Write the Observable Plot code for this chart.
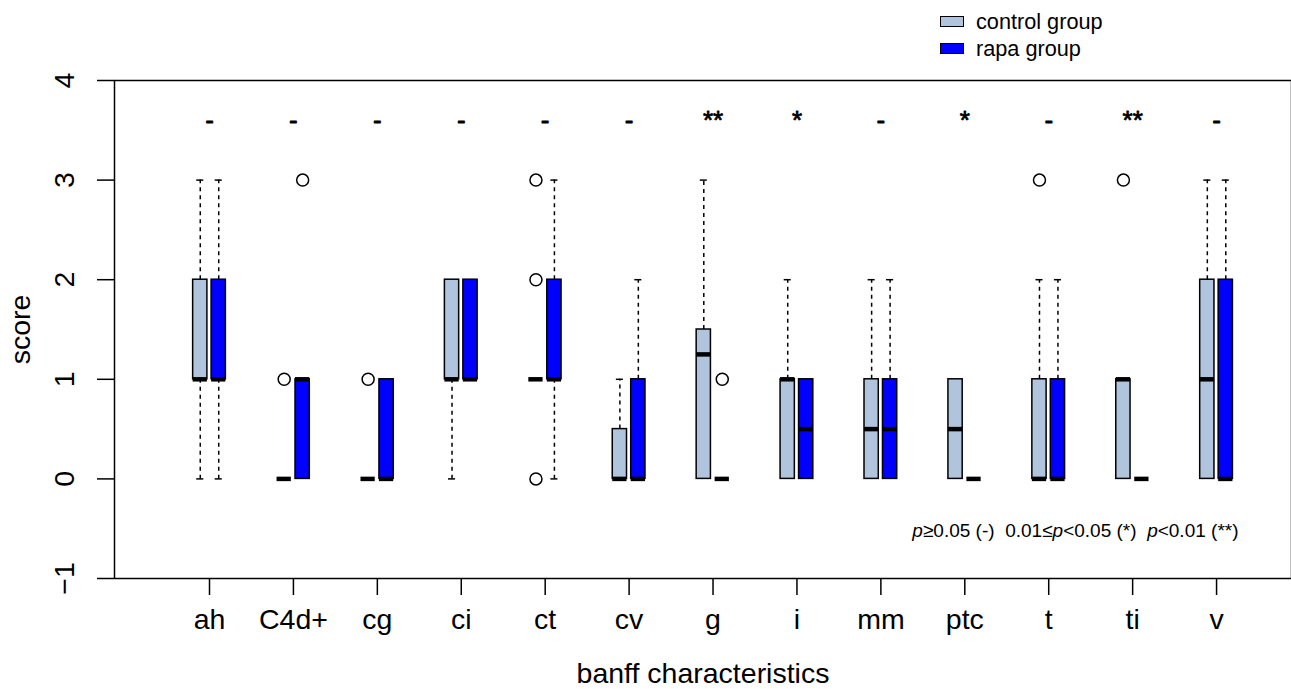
<!DOCTYPE html>
<html>
<head>
<meta charset="utf-8">
<script src="https://cdn.jsdelivr.net/npm/d3@7"></script>
<script src="https://cdn.jsdelivr.net/npm/@observablehq/plot@0.6"></script>
<style>
  html, body { margin: 0; padding: 0; background: #fff; }
  #wrap { position: relative; width: 1291px; height: 689px; font-family: "Liberation Sans", Arial, Helvetica, sans-serif; }
  #legend { position: absolute; left: 940px; top: 8px; font-size: 21.7px; color: #000; line-height: 27px; }
  #legend .item { display: flex; align-items: center; }
  #legend .sw { width: 22px; height: 9px; border: 1.5px solid #000; margin-right: 12px; }
</style>
</head>
<body>
<div id="wrap">
  <div id="chart"></div>
  <div id="legend">
    <div class="item"><span class="sw" style="background:#b0c4de"></span><span>control group</span></div>
    <div class="item"><span class="sw" style="background:#0000ff"></span><span>rapa group</span></div>
  </div>
</div>
<script>
// ---- data ----
const categories = ["ah","C4d+","cg","ci","ct","cv","g","i","mm","ptc","t","ti","v"];

const controlLow    = [0, 0, 0, 0, 1, 0,    0, 0, 0,   0,   0, 0, 0];
const controlQ1     = [1, 0, 0, 1, 1, 0,    0, 0, 0,   0,   0, 0, 0];
const controlMedian = [1, 0, 0, 1, 1, 0, 1.25, 1, 0.5, 0.5, 0, 1, 1];
const controlQ3     = [2, 0, 0, 2, 1, 0.5, 1.5, 1, 1,   1,   1, 1, 2];
const controlHigh   = [3, 0, 0, 2, 1, 1,    3, 2, 2,   1,   2, 1, 3];

const rapaLow    = [0, 0, 0, 1, 0, 0, 0, 0,   0,   0, 0, 0, 0];
const rapaQ1     = [1, 0, 0, 1, 1, 0, 0, 0,   0,   0, 0, 0, 0];
const rapaMedian = [1, 1, 0, 1, 1, 0, 0, 0.5, 0.5, 0, 0, 0, 0];
const rapaQ3     = [2, 1, 1, 2, 2, 1, 0, 1,   1,   0, 1, 0, 2];
const rapaHigh   = [3, 1, 1, 2, 3, 2, 0, 1,   2,   0, 2, 0, 3];

const controlOutliers = [["C4d+",1],["cg",1],["ct",0],["ct",2],["ct",3],["t",3],["ti",3]];
const rapaOutliers    = [["C4d+",3],["g",1]];

const significance = ["-","-","-","-","-","-","**","*","-","*","-","**","-"];
const yTicks = [-1, 0, 1, 2, 3, 4];

// ---- layout constants ----
const groups = [
  {name: "control group", fill: "#b0c4de", offset: -0.11, low: controlLow, q1: controlQ1, med: controlMedian, q3: controlQ3, high: controlHigh, out: controlOutliers},
  {name: "rapa group",    fill: "#0000ff", offset:  0.11, low: rapaLow,    q1: rapaQ1,    med: rapaMedian,    q3: rapaQ3,    high: rapaHigh,    out: rapaOutliers}
];
const halfW = 0.085, capW = 0.042, sigY = 3.6;

const boxes = [];
const outliers = [];
for (const g of groups) {
  categories.forEach((c, i) => {
    boxes.push({cat: c, pos: i + g.offset, fill: g.fill, low: g.low[i], q1: g.q1[i], med: g.med[i], q3: g.q3[i], high: g.high[i]});
  });
  for (const [c, v] of g.out) outliers.push({pos: categories.indexOf(c) + g.offset, value: v});
}
const lowerW = boxes.filter(d => d.low < d.q1);
const upperW = boxes.filter(d => d.high > d.q3);
const sigTable = categories.map((c, i) => ({pos: i, text: significance[i]}));

const font = '"Liberation Sans", Arial, Helvetica, sans-serif';
const big = 28.5;

const chart = Plot.plot({
  width: 1291,
  height: 689,
  marginLeft: 114,
  marginRight: 0,
  marginTop: 80,
  marginBottom: 111,
  style: {fontFamily: font, background: "white", color: "black"},
  x: {type: "linear", domain: [-1.132, 12.893], axis: null},
  y: {domain: [-1, 4], axis: null},
  marks: [
    Plot.frame({stroke: "black", strokeWidth: 1.5}),
    Plot.axisX({ticks: d3.range(categories.length), tickSize: 17, tickPadding: 13, tickFormat: i => categories[i], fontSize: big, strokeWidth: 1.5, label: null}),
    Plot.axisY({ticks: yTicks, tickSize: 17, tickFormat: () => "", strokeWidth: 1.5, label: null}),
    Plot.text(yTicks, {y: d => d, text: d => d < 0 ? "\u2212" + Math.abs(d) : String(d), frameAnchor: "left", dx: -50, rotate: -90, fontSize: big, textAnchor: "middle", lineAnchor: "middle"}),
    Plot.text(["score"], {frameAnchor: "left", dx: -94, rotate: -90, fontSize: big, textAnchor: "middle", lineAnchor: "middle"}),
    Plot.text(["banff characteristics"], {frameAnchor: "bottom", dy: 95, fontSize: big, lineAnchor: "middle"}),
    // whiskers
    Plot.ruleX(upperW, {x: "pos", y1: "q3", y2: "high", stroke: "black", strokeWidth: 1.5, strokeDasharray: "4,4"}),
    Plot.ruleX(lowerW, {x: "pos", y1: "q1", y2: "low", stroke: "black", strokeWidth: 1.5, strokeDasharray: "4,4"}),
    Plot.ruleY(upperW, {y: "high", x1: d => d.pos - capW, x2: d => d.pos + capW, stroke: "black", strokeWidth: 1.5}),
    Plot.ruleY(lowerW, {y: "low", x1: d => d.pos - capW, x2: d => d.pos + capW, stroke: "black", strokeWidth: 1.5}),
    // boxes
    Plot.rect(boxes, {x1: d => d.pos - halfW, x2: d => d.pos + halfW, y1: "q1", y2: "q3", fill: "fill", stroke: "black", strokeWidth: 1.5}),
    // medians
    Plot.ruleY(boxes, {y: "med", x1: d => d.pos - halfW, x2: d => d.pos + halfW, stroke: "black", strokeWidth: 4.5}),
    // outliers
    Plot.dot(outliers, {x: "pos", y: "value", r: 6, stroke: "black", strokeWidth: 1.5, fill: "none"}),
    // significance
    Plot.text(sigTable, {x: "pos", y: () => sigY, text: "text", fontSize: 26, lineAnchor: "middle", fill: "black", stroke: "black", strokeWidth: 0.8}),
    Plot.text(["PNOTE"], {frameAnchor: "bottom-right", dx: -53, dy: -48, fontSize: 19, textAnchor: "end", lineAnchor: "middle", className: "pnote"})
  ]
});
document.getElementById("chart").appendChild(chart);

// italic p in the annotation
const t = d3.select(chart).select(".pnote text");
if (!t.empty()) {
  t.text(null);
  const parts = [["p", true], ["\u22650.05 (-)  0.01\u2264", false], ["p", true], ["<0.05 (*)  ", false], ["p", true], ["<0.01 (**)", false]];
  for (const [s, it] of parts) t.append("tspan").attr("font-style", it ? "italic" : null).attr("xml:space", "preserve").style("white-space", "pre").text(s);
}
</script>
</body>
</html>
